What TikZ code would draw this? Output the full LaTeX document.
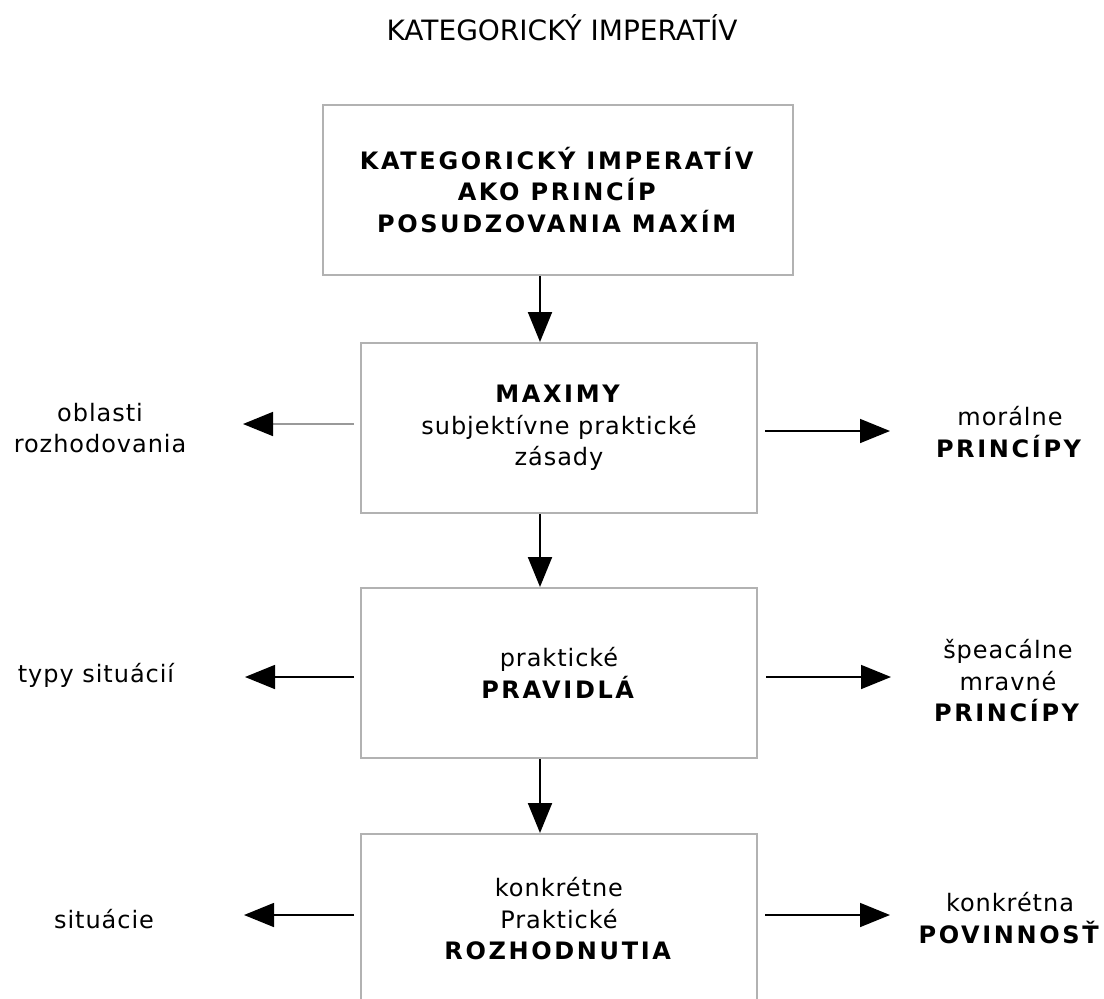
\documentclass[tikz,border=0pt]{standalone}
\usepackage{fontspec}
\setmainfont{DejaVu Sans}[LetterSpace=4,BoldFeatures={LetterSpace=11}]
\newfontfamily\titlefont{DejaVu Sans}
\usetikzlibrary{arrows.meta}

\tikzset{
  box/.style={draw=gray!60, line width=2pt, minimum width=396pt, minimum height=170pt,
    inner sep=0pt, align=center, font=\fontsize{24}{31.5}\selectfont},
  side/.style={align=center, font=\fontsize{24}{31.5}\selectfont},
  flow/.style={line width=2pt, -{Triangle[length=30pt,width=24pt]}},
  branch/.style={line width=1.6pt, -{Triangle[length=30pt,width=24pt,color=black]}},
}

\begin{document}
\begin{tikzpicture}[x=1pt,y=-1pt]

\useasboundingbox (0,0) rectangle (1104,999);
\clip (0,0) rectangle (1104,999);

% Title
\node[font=\titlefont\fontsize{28}{32}\selectfont] (title) at (562,28) {KATEGORICKÝ IMPERATÍV};

% ---- Central column ----
\node[box, minimum width=470pt] (imperativ) at (558,190)
  {\textbf{KATEGORICKÝ IMPERATÍV}\\\textbf{AKO PRINCÍP}\\\textbf{POSUDZOVANIA MAXÍM}};
\node[box] (maximy) at (559,428)
  {\textbf{MAXIMY}\\subjektívne praktické\\zásady};
\node[box] (pravidla) at (559,673)
  {praktické\\\textbf{PRAVIDLÁ}};
\node[box] (rozhodnutia) at (559,919)
  {konkrétne\\Praktické\\\textbf{ROZHODNUTIA}};

% vertical arrows (off the box centre)
\coordinate (spine) at (540,0);
\draw[flow] (imperativ.south -| spine) -- (maximy.north -| spine);
\draw[flow] (maximy.south -| spine) -- (pravidla.north -| spine);
\draw[flow] (pravidla.south -| spine) -- (rozhodnutia.north -| spine);

% ---- Row 2: maximy ----
\node[side] (oblasti) at (100,428) {oblasti\\rozhodovania};
\node[side] (moralne) at (1010,432) {morálne\\\textbf{PRINCÍPY}};
\coordinate (oblastitip) at (243,424);
\coordinate (moralnetip) at (890,431);
\draw[branch, draw=gray!80, shorten <=6pt] (maximy.west |- oblastitip) -- (oblastitip);
\draw[branch, shorten <=7pt] (maximy.east |- moralnetip) -- (moralnetip);

% ---- Row 3: pravidla ----
\node[side] (typy) at (96,675) {typy situácií};
\node[side] (specialne) at (1008,681) {špeacálne\\mravné\\\textbf{PRINCÍPY}};
\coordinate (typytip) at (245,677);
\coordinate (specialnetip) at (891,677);
\draw[branch, shorten <=6pt] (pravidla.west |- typytip) -- (typytip);
\draw[branch, shorten <=8pt] (pravidla.east |- specialnetip) -- (specialnetip);

% ---- Row 4: rozhodnutia ----
\node[side] (situacie) at (104,919) {situácie};
\node[side] (povinnost) at (1010,918) {konkrétna\\\textbf{POVINNOSŤ}};
\coordinate (situacietip) at (244,915);
\coordinate (povinnosttip) at (890,915);
\draw[branch, shorten <=6pt] (rozhodnutia.west |- situacietip) -- (situacietip);
\draw[branch, shorten <=7pt] (rozhodnutia.east |- povinnosttip) -- (povinnosttip);

\end{tikzpicture}
\end{document}
